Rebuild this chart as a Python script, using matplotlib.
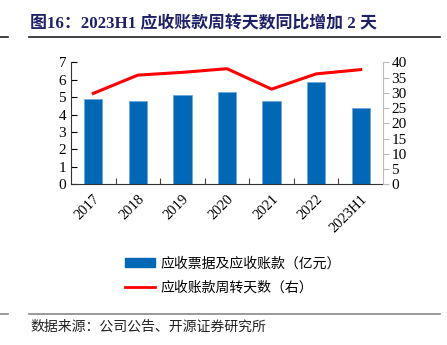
import matplotlib.pyplot as plt
from matplotlib.lines import Line2D
from matplotlib.patches import Patch

# data
years = ['2017', '2018', '2019', '2020', '2021', '2022', '2023H1']
receivables = [4.88, 4.78, 5.12, 5.27, 4.77, 5.89, 4.37]   # 亿元
turnover_days = [29.8, 35.8, 36.7, 37.9, 31.2, 36.2, 37.6]  # 天

BLUE = '#0068B7'
RED = '#FF0000'
NAVY = '#1F2168'
SERIF = ['Liberation Serif', 'Noto Sans CJK SC']
CJK = ['Noto Sans CJK SC', 'DejaVu Sans']

fig = plt.figure(figsize=(4.47, 3.45), dpi=100)

# title and rules
fig.text(30 / 447, 1 - 24 / 345, '图16：2023H1 应收账款周转天数同比增加 2 天',
         family=SERIF, fontsize=12.2, fontweight='bold', color=NAVY, va='center')
for y, c in [(37, '#222222'), (314, '#888888')]:
    fig.add_artist(Line2D([29 / 447, 440 / 447], [1 - y / 345] * 2, color=c, lw=1.2))
    fig.add_artist(Line2D([0, 8 / 447], [1 - y / 345] * 2, color=c, lw=1.2))
fig.text(30 / 447, 1 - 327 / 345, '数据来源：公司公告、开源证券研究所',
         family=CJK, fontsize=10, color='#222222', va='center')

ax = fig.add_axes([71 / 447, 1 - 184.3 / 345, 312 / 447, 122 / 345])
x = range(len(years))
ax.bar(x, receivables, width=0.41, color=BLUE, edgecolor='#6FA8DC', lw=0.6, zorder=2)
ax.set_xlim(-0.5, len(years) - 0.5)
ax.set_ylim(0, 7)
ax.set_yticks(range(8))
ax.set_xticks([i + 0.5 for i in range(len(years) - 1)], minor=False)
ax.set_xticklabels([])
ax.set_xticks(list(x), minor=True)
ax.set_xticklabels(years, minor=True, rotation=45, ha='right', va='top',
                   rotation_mode='anchor', family=SERIF, fontsize=10.5)
ax.tick_params(axis='x', which='major', direction='in', length=4, color='#444444')
ax.tick_params(axis='x', which='minor', length=0, pad=6)
ax.tick_params(axis='y', direction='in', length=4, labelsize=11)
for lab in ax.get_yticklabels():
    lab.set_family(SERIF)
ax.spines['top'].set_visible(False)
ax.spines['right'].set_visible(False)
ax.spines['left'].set_color('#333333')
ax.spines['bottom'].set_color('#333333')

ax2 = ax.twinx()
ax2.plot(x, turnover_days, color=RED, lw=2.2, zorder=3)
ax2.set_ylim(0, 40)
ax2.set_yticks(range(0, 41, 5))
ax2.tick_params(axis='y', direction='out', length=4, color='#BBBBBB', labelsize=11, pad=2)
for lab in ax2.get_yticklabels():
    lab.set_family(SERIF)
ax2.spines['top'].set_visible(False)
ax2.spines['left'].set_visible(False)
ax2.spines['bottom'].set_visible(False)
ax2.spines['right'].set_color('#BBBBBB')

handles = [Patch(facecolor=BLUE, edgecolor=BLUE),
           Line2D([], [], color=RED, lw=2)]
fig.legend(handles, ['应收票据及应收账款（亿元）', '应收账款周转天数（右）'],
           loc='upper left', bbox_to_anchor=(112 / 447, 1 - 244 / 345),
           frameon=False, prop={'family': CJK, 'size': 10},
           handlelength=2.2, handleheight=0.6, labelspacing=0.75, handletextpad=0.4)

fig.savefig('out.png', dpi=100)
